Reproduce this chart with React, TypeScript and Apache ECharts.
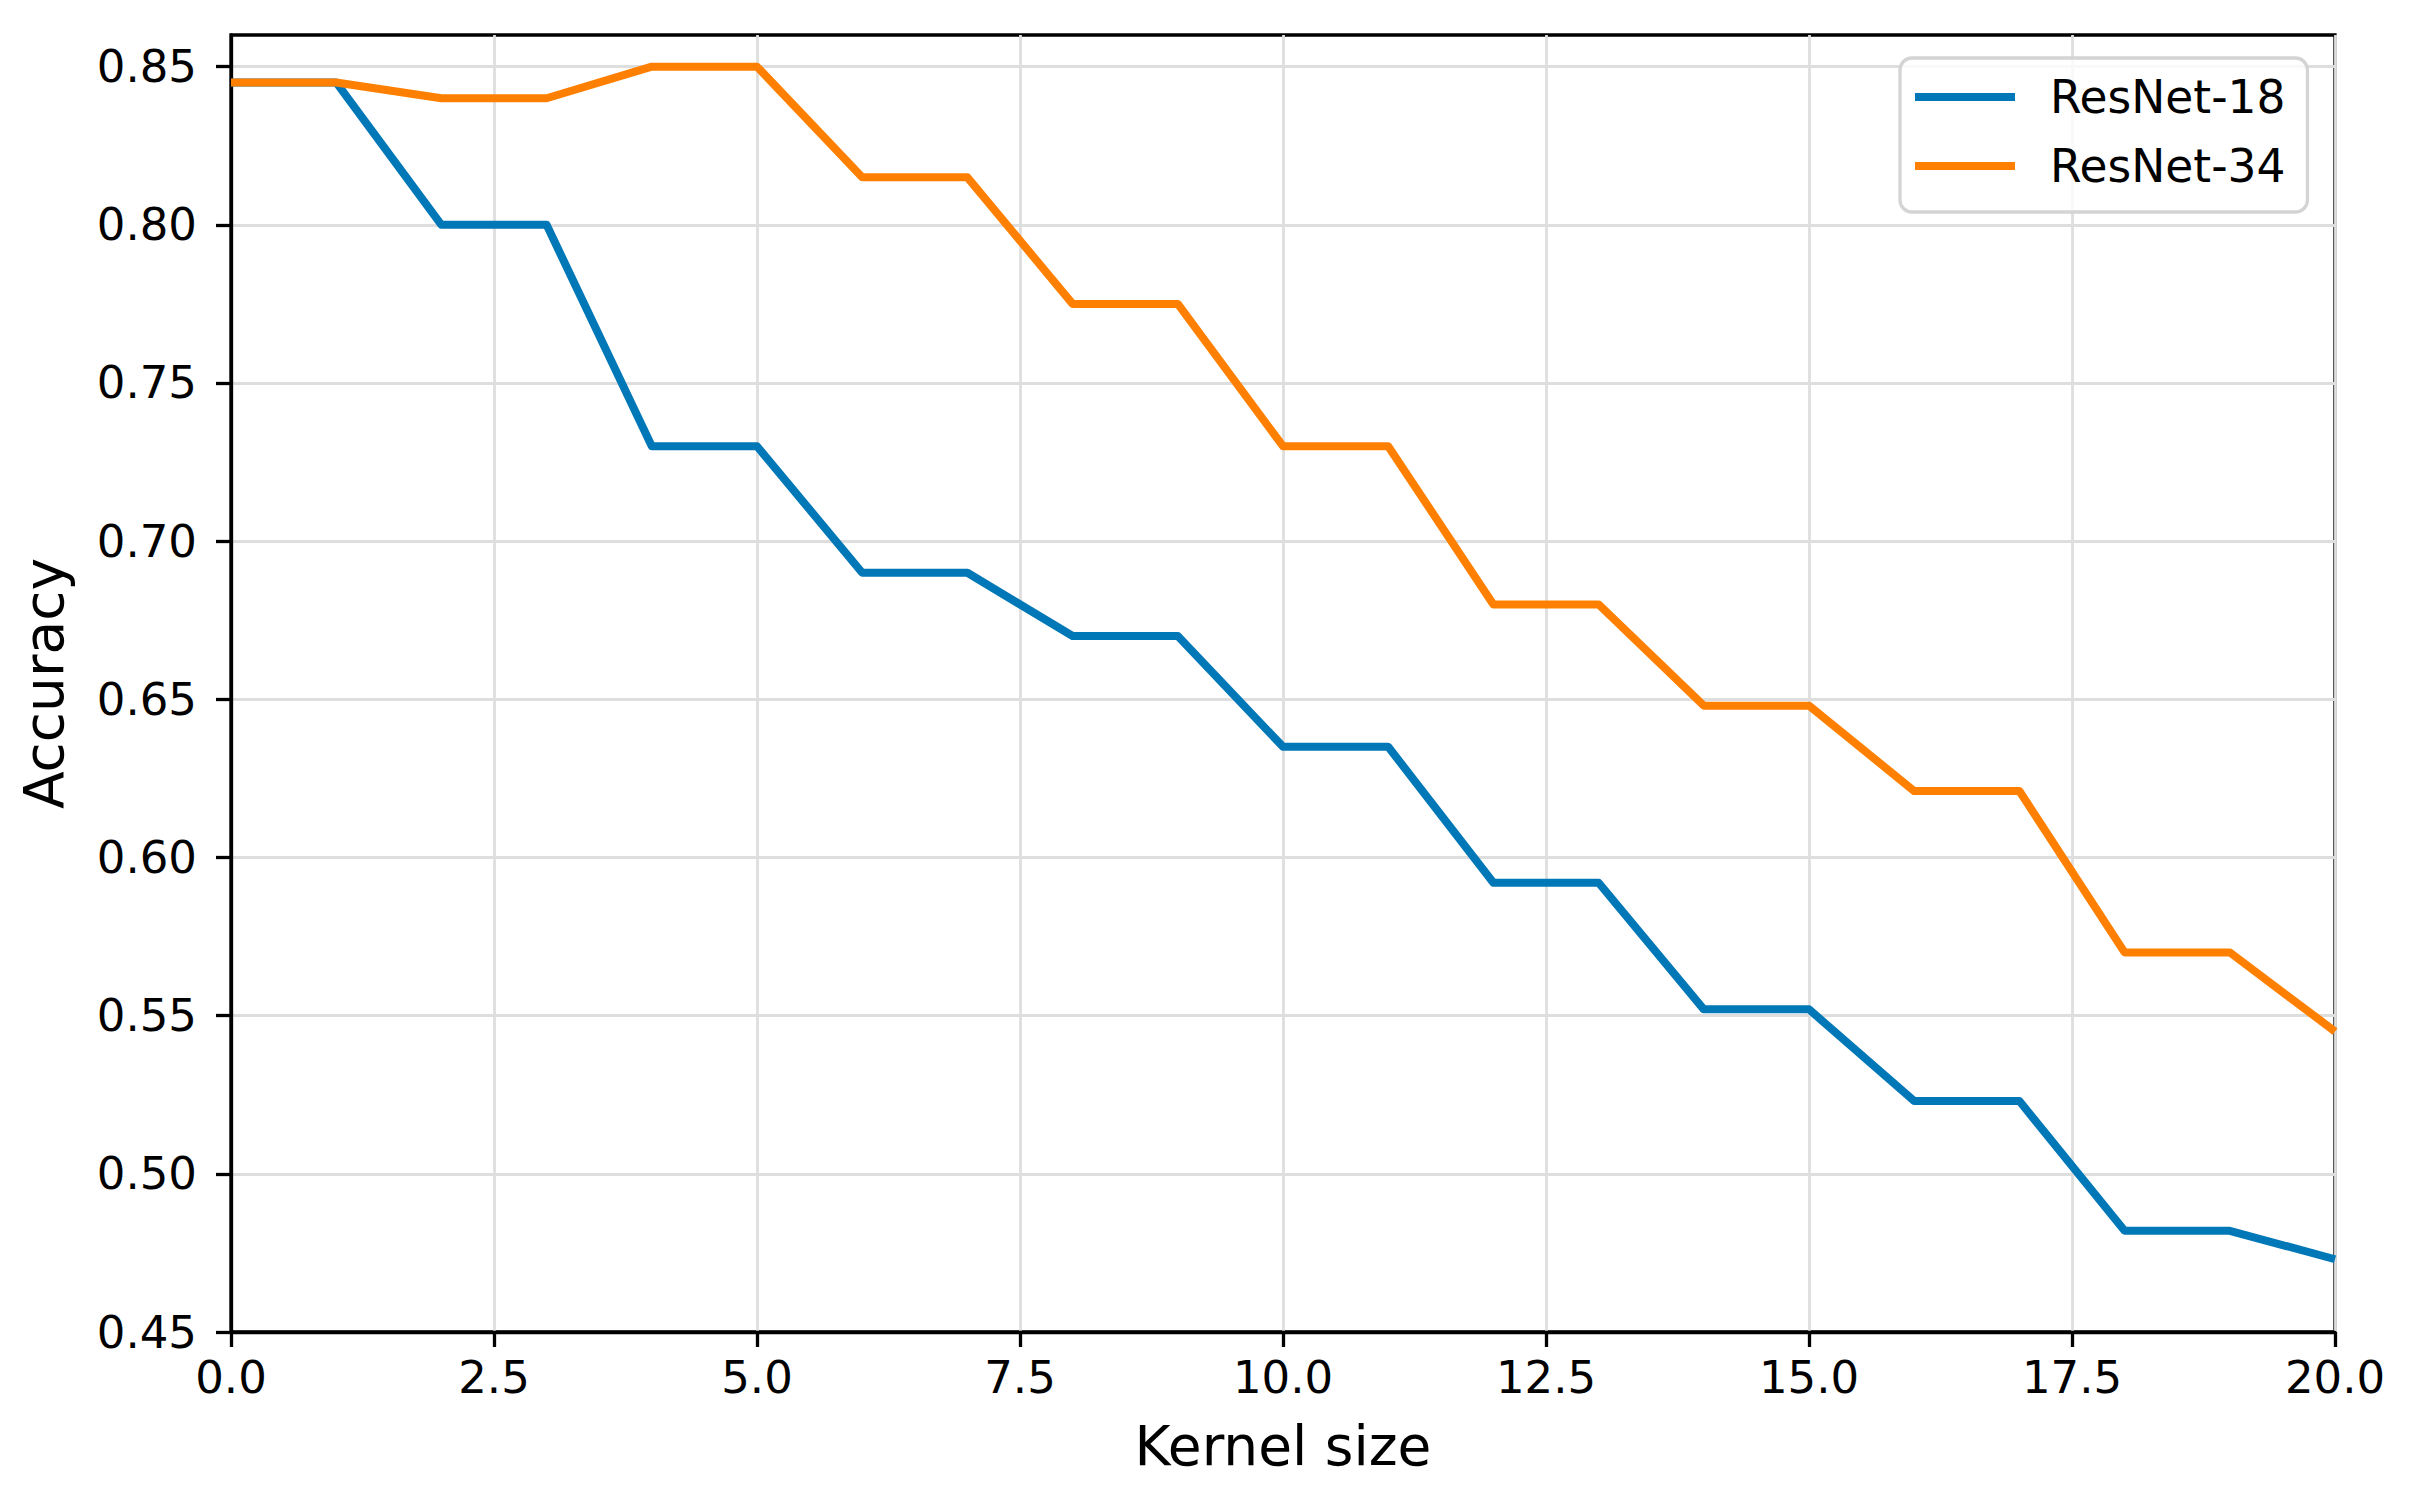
import React, { useEffect, useRef } from "react";
import * as echarts from "echarts";

const kernelSizes = [0, 1, 2, 3, 4, 5, 6, 7, 8, 9, 10, 11, 12, 13, 14, 15, 16, 17, 18, 19, 20];
const resnet18 = [0.845, 0.845, 0.8, 0.8, 0.73, 0.73, 0.69, 0.69, 0.67, 0.67, 0.635, 0.635, 0.592, 0.592, 0.552, 0.552, 0.523, 0.523, 0.482, 0.482, 0.473];
const resnet34 = [0.845, 0.845, 0.84, 0.84, 0.85, 0.85, 0.815, 0.815, 0.775, 0.775, 0.73, 0.73, 0.68, 0.68, 0.648, 0.648, 0.621, 0.621, 0.57, 0.57, 0.545];
const seriesNames = ["ResNet-18", "ResNet-34"];
const seriesColors = ["#0077b6", "#ff8000"];
const yTicks = [0.45, 0.5, 0.55, 0.6, 0.65, 0.7, 0.75, 0.8, 0.85];
const xTicks = [0, 2.5, 5, 7.5, 10, 12.5, 15, 17.5, 20];

const FONT = "DejaVu Sans";

export default function App() {
  const ref = useRef<HTMLDivElement>(null);
  useEffect(() => {
    if (!ref.current) return;
    const chart = echarts.init(ref.current, undefined, { renderer: "svg" });
    const toPairs = (ys: number[]) => kernelSizes.map((x, i) => [x, ys[i]]);
    chart.setOption({
      animation: false,
      backgroundColor: "#ffffff",
      textStyle: { fontFamily: FONT },
      grid: {
        left: 231,
        right: 79,
        top: 35,
        bottom: 170,
        show: true,
        borderColor: "#000000",
        borderWidth: 3.3,
        backgroundColor: "transparent",
      },
      legend: {
        left: 1900,
        top: 58,
        orient: "vertical",
        icon: "rect",
        itemWidth: 100,
        itemHeight: 8,
        itemGap: 19,
        padding: [14, 22, 21, 15],
        borderColor: "#d4d4d4",
        borderWidth: 3.3,
        borderRadius: 12,
        backgroundColor: "rgba(255,255,255,0.8)",
        textStyle: {
          fontFamily: FONT,
          fontSize: 45.5,
          color: "#000000",
          lineHeight: 50,
          padding: [0, 0, 0, 30],
        },
        data: seriesNames,
      },
      xAxis: {
        type: "value",
        min: 0,
        max: 20,
        interval: 2.5,
        name: "Kernel size",
        nameLocation: "middle",
        nameGap: 86,
        nameTextStyle: { fontFamily: FONT, fontSize: 55, color: "#000000" },
        axisLine: { show: true, onZero: false, lineStyle: { color: "#000000", width: 3.3 } },
        axisTick: { show: true, length: 15, lineStyle: { color: "#000000", width: 3.3 }, customValues: xTicks },
        axisLabel: {
          fontFamily: FONT,
          fontSize: 45,
          color: "#000000",
          margin: 23,
          customValues: xTicks,
          formatter: (v: number) => v.toFixed(1),
        },
        splitLine: { show: true, lineStyle: { color: "#dedede", width: 2.8 } },
      },
      yAxis: {
        type: "value",
        min: 0.45,
        max: 0.86,
        interval: 0.05,
        name: "Accuracy",
        nameLocation: "middle",
        nameGap: 160,
        nameRotate: 90,
        nameTextStyle: { fontFamily: FONT, fontSize: 55, color: "#000000" },
        axisLine: { show: true, lineStyle: { color: "#000000", width: 3.3 } },
        axisTick: { show: true, length: 15, lineStyle: { color: "#000000", width: 3.3 }, customValues: yTicks },
        axisLabel: {
          fontFamily: FONT,
          fontSize: 45,
          color: "#000000",
          margin: 34,
          customValues: yTicks,
          formatter: (v: number) => v.toFixed(2),
        },
        splitLine: { show: true, lineStyle: { color: "#dedede", width: 2.8 } },
      },
      series: [
        {
          name: seriesNames[0],
          type: "line",
          data: toPairs(resnet18),
          showSymbol: false,
          symbol: "none",
          color: seriesColors[0],
          lineStyle: { color: seriesColors[0], width: 8, join: "round" },
          z: 3,
        },
        {
          name: seriesNames[1],
          type: "line",
          data: toPairs(resnet34),
          showSymbol: false,
          symbol: "none",
          color: seriesColors[1],
          lineStyle: { color: seriesColors[1], width: 8, join: "round" },
          z: 4,
        },
      ],
    });
    return () => chart.dispose();
  }, []);
  return (
    <div
      ref={ref}
      style={{ position: "fixed", left: 0, top: 0, width: 2414, height: 1502, background: "#fff" }}
    />
  );
}
